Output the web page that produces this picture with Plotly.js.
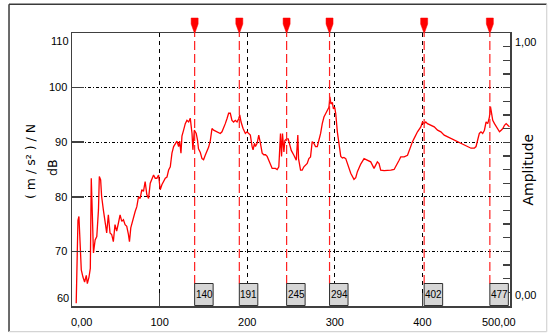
<!DOCTYPE html>
<html>
<head>
<meta charset="utf-8">
<script src="https://cdn.plot.ly/plotly-3.0.1.min.js"></script>
<style>html,body{margin:0;padding:0;background:#fff;}#chart{width:550px;height:334px;}</style>
</head>
<body>
<div id="chart"></div>
<script>
// Frequency (Hz) of the measured FRF curve
const freq = [4.8,6.8,7.9,9.4,10.6,12.5,14.4,16.3,17.5,19.4,20.9,22.0,23.1,24.5,26.4,28.3,30.2,31.2,32.7,33.8,35.8,37.7,39.6,41.5,43.4,45.3,47.2,49.1,51.0,53.0,54.9,56.8,58.7,60.6,62.5,64.4,65.6,67.1,70.2,72.1,74.0,75.9,77.8,79.7,81.6,83.5,85.4,87.4,89.3,91.2,93.1,95.0,96.9,98.8,100.7,102.6,104.6,106.5,108.4,110.3,112.2,114.1,116.0,117.9,119.8,121.7,122.9,124.4,125.5,127.4,129.3,131.2,133.2,135.0,137.0,138.0,139.6,141.8,143.3,144.4,146.5,148.4,150.2,152.1,154.0,156.0,157.9,159.8,161.7,165.5,169.3,171.2,173.1,175.0,176.9,178.8,180.7,182.6,184.5,186.4,188.4,190.3,191.5,193.0,195.3,197.9,199.8,201.7,203.6,205.6,206.7,208.3,209.4,211.3,213.2,215.1,217.1,219.0,220.9,222.8,224.7,226.6,228.5,230.4,232.3,234.2,236.1,238.0,239.2,240.3,241.9,243.0,244.9,246.8,248.7,250.3,253.3,256.0,257.8,258.6,260.9,262.8,264.7,268.5,270.4,272.3,274.2,276.1,278.0,280.0,281.9,283.8,285.7,287.6,289.5,291.4,293.3,294.4,295.6,297.2,298.4,299.9,301.1,302.9,304.8,306.8,308.7,310.4,312.5,314.4,316.3,318.2,321.9,323.9,325.8,329.6,333.4,337.2,341.0,344.8,346.7,348.6,350.5,352.4,356.3,360.1,363.9,367.7,369.6,371.5,373.4,375.3,379.2,383.0,384.9,386.8,388.7,390.6,392.5,394.4,398.2,400.1,402.0,403.9,405.8,409.6,413.5,417.3,421.1,424.9,428.7,432.5,436.4,440.2,444.0,447.8,451.6,455.5,459.3,461.2,463.1,465.0,466.9,468.8,470.8,472.7,474.6,476.5,477.7,479.2,480.3,482.3,484.2,486.1,488.0,489.9,491.8,493.7,495.6,497.5,499.4];
// Level in dB
const levelDb = [60.5,75.7,76.4,71.5,66.6,65.3,64.4,65.6,64.1,65.3,66.9,83.4,78.7,69.7,72.1,72.7,77.6,83.7,83.1,80.1,77.6,75.2,73.4,76.7,73.4,73.1,71.8,74.9,73.7,75.2,76.7,75.5,75.8,74.9,74.6,73.1,71.8,74.3,76.4,77.3,78.2,80.0,79.7,81.3,81.0,82.8,80.4,79.7,82.5,83.4,84.0,83.4,83.4,84.0,81.3,82.2,82.8,83.4,83.6,84.9,85.5,88.0,89.2,89.8,90.2,89.2,90.2,88.0,91.1,92.2,93.4,94.0,93.7,94.4,91.6,88.6,92.2,91.6,90.4,88.8,88.1,87.0,86.8,87.6,88.2,89.1,90.3,92.5,92.2,91.9,91.6,91.9,92.5,93.4,94.3,95.3,95.3,94.0,93.7,94.0,93.7,94.3,95.0,93.7,92.5,91.6,91.9,91.6,91.3,89.2,88.6,89.8,89.2,89.8,91.3,89.8,88.0,87.7,87.7,87.4,86.7,86.1,85.2,85.2,85.2,85.0,85.5,91.6,87.4,91.6,88.2,90.3,90.6,90.6,89.1,88.5,87.6,86.7,91.3,87.0,84.9,84.9,85.5,86.1,87.0,87.3,90.1,89.8,89.2,89.2,90.4,91.6,93.4,94.6,95.2,95.8,96.4,98.3,97.0,97.3,96.1,96.4,95.2,91.9,89.8,87.4,87.1,87.2,87.0,86.1,85.2,84.3,83.2,83.5,84.6,86.0,87.0,86.7,86.4,85.2,85.8,86.4,86.1,84.9,84.8,84.8,84.9,85.0,85.5,86.1,86.7,87.3,87.3,87.6,88.5,89.5,90.1,90.7,91.3,91.9,92.8,93.7,93.4,93.7,93.4,93.1,92.8,92.2,91.9,91.3,91.0,90.7,90.4,90.1,89.8,89.5,89.2,88.9,88.9,89.2,90.4,91.6,91.9,91.6,92.2,93.7,93.4,94.6,96.5,95.2,94.0,93.4,92.8,92.2,91.9,92.2,92.5,93.1,93.4,93.1,92.8];
// Cursor markers (Hz)
const markerFreqs = [140, 191, 245, 294, 402, 477];
const markerLabels = ["140", "191", "245", "294", "402", "477"];
// Axes
const xRange = [0, 500];
const xTicks = [0, 100, 200, 300, 400, 500];
const xTickText = ["0,00", "100", "200", "300", "400", "500,00"];
const yRange = [60, 110];
const yTicks = [60, 70, 80, 90, 100, 110];
const yTickText = ["60", "70", "80", "90", "100", "110"];
const y2Range = [0, 1];
const y2EndText = ["0,00", "1,00"];
const yTitleLines = ["( m / s\u00B2 ) / N", "dB"];
const y2Title = "Amplitude";

const sans = "'Liberation Sans', Arial, sans-serif";
const axisCol = "#404040";

const y2Ticks = [];
for (let i = 0; i <= 20; i++) y2Ticks.push(y2Range[0] + (y2Range[1] - y2Range[0]) * i / 20);

const traces = [
  {x: freq, y: levelDb, type: "scatter", mode: "lines",
   line: {color: "#ff0000", width: 1.3}, hoverinfo: "skip", showlegend: false},
  {x: [], y: [], yaxis: "y2", type: "scatter", showlegend: false}
];

const shapes = [];
const annotations = [];

markerFreqs.forEach((f, i) => {
  shapes.push({type: "line", xref: "x", x0: f, x1: f, yref: "paper", ysizemode: "pixel",
    yanchor: 0, y0: 22, y1: 274, line: {color: "#ff2020", width: 1.2, dash: "9px,4px"}, layer: "above"});
  shapes.push({type: "path", xref: "x", xsizemode: "pixel", xanchor: f, yref: "paper",
    ysizemode: "pixel", yanchor: 1, path: "M-3.5,15 L3.5,15 L3.5,9 L0.6,1 L-0.6,1 L-3.5,9 Z",
    fillcolor: "#ff0000", line: {color: "#ff0000", width: 0.5}});
  shapes.push({type: "rect", xref: "x", xsizemode: "pixel", xanchor: f, x0: 0, x1: 18.5,
    yref: "paper", ysizemode: "pixel", yanchor: 0, y0: 0.5, y1: 22.5,
    fillcolor: "#d6d6d6", line: {color: "#303030", width: 1}, layer: "above"});
  annotations.push({xref: "x", x: f, xanchor: "center", xshift: 9.5, yref: "paper", y: 0,
    yanchor: "middle", yshift: 11.5, text: markerLabels[i], showarrow: false,
    font: {family: sans, size: 10, color: "#000"}});
});

// outer sunken frame
const fl = -0.1438, fr = 1.0838, ft = 1.1051, fb = -0.0941;
shapes.push({type: "line", xref: "paper", yref: "paper", x0: fl, x1: fr, y0: ft, y1: ft, line: {color: "#3a3a3a", width: 1.5}});
shapes.push({type: "line", xref: "paper", yref: "paper", x0: fl, x1: fl, y0: fb, y1: ft, line: {color: "#3a3a3a", width: 1.5}});
shapes.push({type: "line", xref: "paper", yref: "paper", x0: fl, x1: fr, y0: fb, y1: fb, line: {color: "#d4d4d4", width: 1.2}});
shapes.push({type: "line", xref: "paper", yref: "paper", x0: fr, x1: fr, y0: fb, y1: ft, line: {color: "#d4d4d4", width: 1.2}});

const tickFont = {family: sans, size: 11, color: "#000"};
// end labels shifted inward like the original
annotations.push({xref: "x", x: xRange[0], xanchor: "center", xshift: 9.5, yref: "paper", y: 0,
  yanchor: "middle", yshift: -15.5, text: xTickText[0], showarrow: false, font: tickFont});
annotations.push({xref: "x", x: xRange[1], xanchor: "center", xshift: -11.5, yref: "paper", y: 0,
  yanchor: "middle", yshift: -15.5, text: xTickText[xTickText.length - 1], showarrow: false, font: tickFont});
annotations.push({xref: "paper", x: 0, xanchor: "right", xshift: -1, yref: "y", y: yRange[1],
  yanchor: "middle", yshift: -8.3, text: yTickText[yTickText.length - 1], showarrow: false, font: tickFont});
annotations.push({xref: "paper", x: 0, xanchor: "right", xshift: -1, yref: "y", y: yRange[0],
  yanchor: "middle", yshift: 8.4, text: yTickText[0], showarrow: false, font: tickFont});
annotations.push({xref: "paper", x: 1, xanchor: "left", xshift: 3, yref: "paper", y: 1,
  yanchor: "middle", yshift: -9, text: y2EndText[1], showarrow: false, font: tickFont});
annotations.push({xref: "paper", x: 1, xanchor: "left", xshift: 3, yref: "paper", y: 0,
  yanchor: "middle", yshift: 10.7, text: y2EndText[0], showarrow: false, font: tickFont});

// axis titles
const titleFont = {family: "'DejaVu Sans', sans-serif", size: 12.5, color: "#000"};
annotations.push({xref: "paper", x: 0, xanchor: "center", xshift: -41.5, yref: "paper", y: 0.5293,
  yanchor: "middle", textangle: -90, text: yTitleLines[0], showarrow: false, font: titleFont});
annotations.push({xref: "paper", x: 0, xanchor: "center", xshift: -19, yref: "paper", y: 0.5055,
  yanchor: "middle", textangle: -90, text: yTitleLines[1], showarrow: false, font: titleFont});
annotations.push({xref: "paper", x: 1, xanchor: "center", xshift: 18.5, yref: "paper", y: 0.498,
  yanchor: "middle", textangle: -90, text: y2Title, showarrow: false,
  font: {family: "'DejaVu Sans', sans-serif", size: 14, color: "#000"}});

const layout = {
  width: 550, height: 334,
  margin: {l: 72, r: 40, t: 33, b: 28, pad: 0},
  paper_bgcolor: "#ffffff", plot_bgcolor: "#ffffff",
  showlegend: false,
  xaxis: {range: xRange, tickvals: xTicks,
    ticktext: xTickText.map((t, i) => (i === 0 || i === xTickText.length - 1) ? "" : t),
    ticks: "inside", ticklen: 13, tickwidth: 1.5, tickcolor: axisCol,
    showline: true, linecolor: axisCol, linewidth: 1.5, mirror: true,
    showgrid: true, gridcolor: "#000000", gridwidth: 1, griddash: "4px,4px",
    zeroline: false, tickfont: tickFont, ticklabelstandoff: 5, fixedrange: true},
  yaxis: {range: yRange, tickvals: yTicks,
    ticktext: yTickText.map((t, i) => (i === 0 || i === yTickText.length - 1) ? "" : t),
    ticks: "inside", ticklen: 12, tickwidth: 1.5, tickcolor: axisCol,
    showline: true, linecolor: axisCol, linewidth: 1.5,
    showgrid: true, gridcolor: "#000000", gridwidth: 1, griddash: "3px,2px,1px,2px",
    zeroline: false, tickfont: tickFont, ticklabelstandoff: 1, fixedrange: true},
  yaxis2: {range: y2Range, overlaying: "y", side: "right", tickvals: y2Ticks,
    ticktext: y2Ticks.map(() => ""), ticks: "inside", ticklen: 7, tickwidth: 1.3, tickcolor: axisCol,
    showline: true, linecolor: axisCol, linewidth: 1.5, showgrid: false, zeroline: false, fixedrange: true},
  shapes: shapes,
  annotations: annotations
};

Plotly.newPlot("chart", traces, layout, {staticPlot: true, displayModeBar: false});
</script>
</body>
</html>
